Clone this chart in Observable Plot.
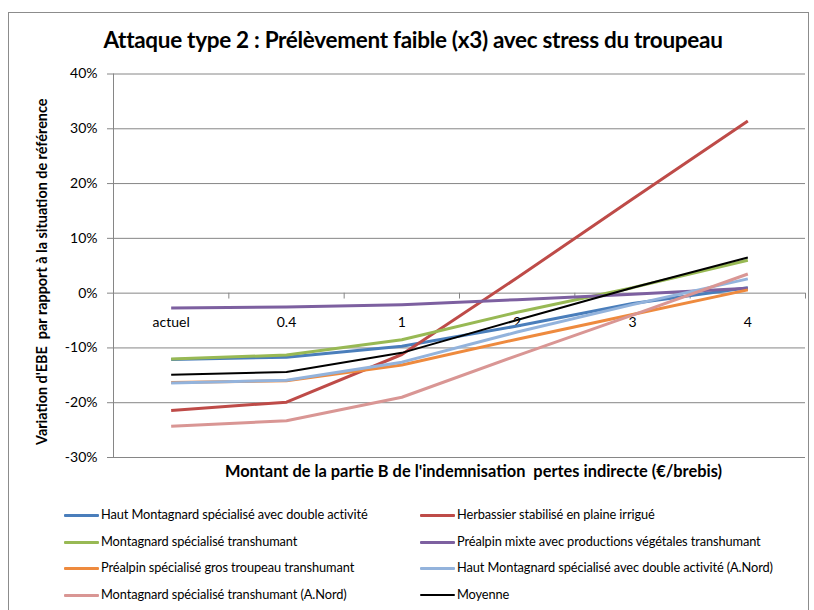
<!DOCTYPE html>
<html>
<head>
<meta charset="utf-8">
<script src="https://cdn.jsdelivr.net/npm/d3@7"></script>
<script src="https://cdn.jsdelivr.net/npm/@observablehq/plot@0.6"></script>
<style>
  body { margin:0; background:#fff; font-family: Lato, "Open Sans", sans-serif; }
  #wrap { position:relative; width:814px; height:610px; background:#fff; overflow:hidden; }
  #border { position:absolute; left:8px; top:12px; width:801px; height:600px; border:1px solid #8c8c8c; box-sizing:border-box; }
  #title { position:absolute; left:8px; width:810px; top:26px; text-align:center; font-weight:bold; font-size:22.5px; color:#000; letter-spacing:-0.3px; }
  #chart { position:absolute; left:0; top:0; }
  .leg { position:absolute; font-size:12.8px; color:#000; white-space:nowrap; letter-spacing:-0.1px; }
  .sw { position:absolute; height:3px; width:35px; border-radius:1px; }
</style>
</head>
<body>
<div id="wrap">
  <div id="border"></div>
  <div id="chart"></div>
  <div id="title"></div>
  <div id="legend"></div>
</div>
<script>
const titleText = "Attaque type 2 : Prélèvement faible (x3) avec stress du troupeau";
const xTitle = "Montant de la partie B de l'indemnisation  pertes indirecte (€/brebis)";
const yTitle = "Variation d'EBE  par rapport à la situation de référence";

const categories = ["actuel", "0.4", "1", "2", "3", "4"];
const yTicks = [-0.3, -0.2, -0.1, 0, 0.1, 0.2, 0.3, 0.4];

const seriesNames = [
  "Haut Montagnard spécialisé avec double activité",
  "Herbassier stabilisé en plaine irrigué",
  "Montagnard spécialisé transhumant",
  "Préalpin mixte avec productions végétales transhumant",
  "Préalpin spécialisé gros troupeau transhumant",
  "Haut Montagnard spécialisé avec double activité (A.Nord)",
  "Montagnard spécialisé transhumant (A.Nord)",
  "Moyenne"
];
const seriesColors = ["#4A7EBB", "#BE4B48", "#98B954", "#7D60A0", "#EE8A3E", "#93B3DC", "#D99694", "#000000"];
const seriesWidths = [3, 3, 3, 3, 3, 3, 3, 2];

// values in %
const hautMontagnard      = [-12.1, -11.7, -9.7, -6.0, -1.9, 1.0];
const herbassier          = [-21.4, -19.9, -11.2, 2.8, 17.2, 31.4];
const montagnardTrans     = [-12.0, -11.3, -8.5, -3.5, 1.0, 6.0];
const prealpinMixte       = [-2.7, -2.55, -2.1, -1.2, -0.2, 0.9];
const prealpinGros        = [-16.3, -16.0, -13.1, -8.4, -3.9, 0.6];
const hautMontagnardNord  = [-16.4, -15.9, -12.6, -7.1, -2.1, 2.6];
const montagnardTransNord = [-24.3, -23.3, -19.0, -11.4, -4.0, 3.5];
const moyenne             = [-14.9, -14.4, -10.9, -4.9, 1.0, 6.5];

const allSeries = [hautMontagnard, herbassier, montagnardTrans, prealpinMixte, prealpinGros, hautMontagnardNord, montagnardTransNord, moyenne];

const rows = [];
allSeries.forEach((vals, s) => vals.forEach((v, i) => rows.push({s, name: seriesNames[s], i, x: i + 0.5, y: v / 100})));

const grid = "#868686";
const tickShape = { draw(context, l) { context.moveTo(0, 0); context.lineTo(0, l); } };
const pct = d => Math.round(d * 100) + "%";

const lineMarks = allSeries.map((vals, s) =>
  Plot.line(rows.filter(d => d.s === s), {x: "x", y: "y", stroke: seriesColors[s], strokeWidth: seriesWidths[s], strokeLinejoin: "round", strokeLinecap: "butt"})
);

const chart = Plot.plot({
  width: 814,
  height: 490,
  marginLeft: 113,
  marginRight: 9,
  marginTop: 73.5,
  marginBottom: 33,
  style: {fontFamily: "Lato, 'Open Sans', sans-serif", fontSize: "13px", background: "transparent", color: "#000"},
  x: {type: "linear", domain: [0, categories.length], axis: null},
  y: {type: "linear", domain: [-0.3, 0.4], axis: null},
  marks: [
    Plot.ruleY(yTicks, {stroke: grid, strokeWidth: 1}),
    Plot.ruleX([0], {stroke: grid, strokeWidth: 1}),
    Plot.axisY({ticks: yTicks, tickFormat: pct, tickSize: 6, tickPadding: 10, stroke: grid, fontSize: 14, label: null}),
    Plot.vector(d3.range(categories.length + 1), {x: d => d, y: 0, length: 5, anchor: "start", shape: tickShape, stroke: grid, strokeWidth: 1}),
    Plot.text(categories, {x: (d, i) => i + 0.5, y: 0, dy: 29, text: d => d, fontSize: 14, fill: "#000"}),
    ...lineMarks,
    Plot.text([yTitle], {frameAnchor: "left", rotate: -90, dx: -71, dy: 6, textAnchor: "middle", fontWeight: "bold", fontSize: 14.4, fill: "#000"}),
    Plot.text([xTitle], {frameAnchor: "bottom", dy: 14, dx: 14, textAnchor: "middle", fontWeight: "bold", fontSize: 16.4, fill: "#000", lineAnchor: "middle"})
  ]
});
document.getElementById("chart").appendChild(chart);
document.getElementById("title").textContent = titleText;

const legend = document.getElementById("legend");
const colX = [64, 420];
const rowY = [515, 542, 568, 595];
seriesNames.forEach((name, s) => {
  const c = s % 2, r = Math.floor(s / 2);
  const sw = document.createElement("div");
  sw.className = "sw";
  sw.style.left = colX[c] + "px";
  sw.style.top = (rowY[r] - (s === 7 ? 1 : 1.5)) + "px";
  sw.style.height = (s === 7 ? 2 : 3) + "px";
  sw.style.background = seriesColors[s];
  legend.appendChild(sw);
  const t = document.createElement("div");
  t.className = "leg";
  t.style.left = (colX[c] + 37) + "px";
  t.style.top = (rowY[r] - 9) + "px";
  t.textContent = name;
  legend.appendChild(t);
});
</script>
</body>
</html>
